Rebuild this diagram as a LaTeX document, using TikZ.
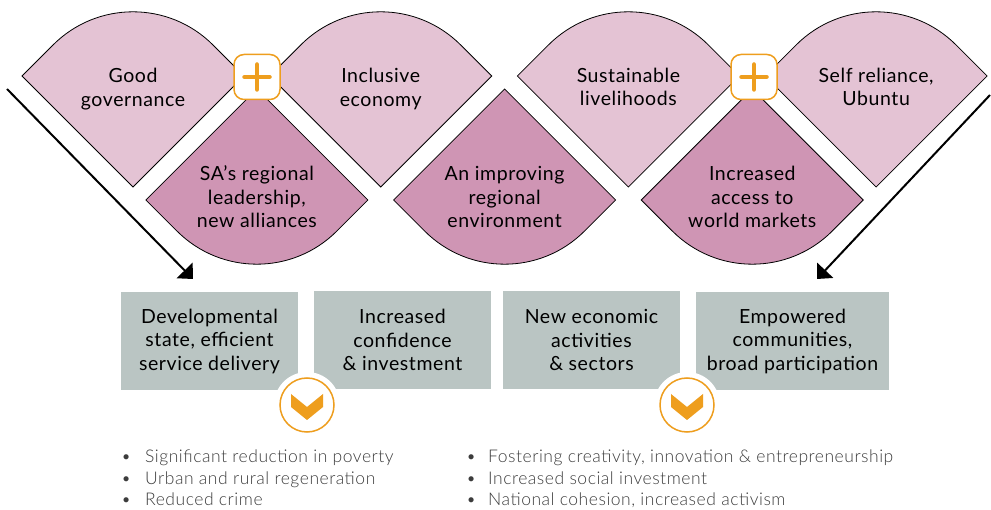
\documentclass[tikz,border=0pt]{standalone}
\usepackage{fontspec}
\setmainfont{Lato}[LetterSpace=3]
\newfontfamily\lightfont{Lato Light}[LetterSpace=3]
\usetikzlibrary{arrows.meta,positioning}

\definecolor{leaflight}{RGB}{228,195,212}
\definecolor{leafdark}{RGB}{207,149,180}
\definecolor{boxgrey}{RGB}{186,197,195}
\definecolor{accent}{RGB}{238,158,30}
\definecolor{listgrey}{RGB}{60,60,60}

\tikzset{
  leaftext/.style={align=center, inner sep=0pt, font=\fontsize{19.5}{23.5}\selectfont},
  outbox/.style={fill=boxgrey, minimum height=98pt, align=center, inner sep=0pt,
                 font=\fontsize{19.5}{23.5}\selectfont},
  plusbox/.style={draw=accent, line width=1.5pt, fill=white, rounded corners=10pt,
                  minimum width=46pt, minimum height=45pt},
  chevcircle/.style={circle, draw=accent, line width=1.5pt, fill=white, minimum size=54pt},
  trendarrow/.style={line width=2pt, -{Triangle[length=12pt,width=22pt]}},
  listtext/.style={anchor=base west, inner sep=0pt, text=listgrey,
                   font=\lightfont\fontsize{17.5}{21}\selectfont},
}

\begin{document}
\begin{tikzpicture}[x=1pt,y=1pt]
                \useasboundingbox (0,0) rectangle (991,509);
                % upper row
                \foreach \cx in {133,380.7,628.4,876.1}
                  \filldraw[fill=leaflight, draw=black, line width=0.8pt] (\cx-111,433) -- ++(45:43.98) arc[start angle=135, end angle=45, radius=113] -- (\cx+111,433) -- (\cx,322) -- cycle;
                % lower row
                \foreach \cx in {256.9,504.6,752.3}
                  \filldraw[fill=leafdark, draw=black, line width=0.8pt] (\cx-111,309) -- ++(-45:43.98) arc[start angle=225, end angle=315, radius=113] -- (\cx+111,309) -- (\cx,420) -- cycle;
                \node[leaftext] (gov) at (133,420) {Good\\governance};
                \node[leaftext] (econ) at (380.7,420) {Inclusive\\economy};
                \node[leaftext] (live) at (628.4,422) {Sustainable\\livelihoods};
                \node[leaftext] (self) at (876.1,422) {Self reliance,\\Ubuntu};
                \node[leaftext] (lead) at (256.9,312) {SA’s regional\\leadership,\\new alliances};
                \node[leaftext] (env) at (504.6,312) {An improving\\regional\\environment};
                \node[leaftext] (market) at (752.3,312) {Increased\\access to\\world markets};
                % plus signs
                \foreach \px/\nm in {257/plusA,754/plusB} {
                  \node[plusbox] (\nm) at (\px,432) {};
                  \draw[accent, line width=4.5pt, line cap=round] ([xshift=-12.5pt]\nm.center) -- ([xshift=12.5pt]\nm.center);
                  \draw[accent, line width=4.5pt, line cap=round] ([yshift=-12.5pt]\nm.center) -- ([yshift=12.5pt]\nm.center);
                }
                % arrows
                \coordinate (leftstart) at (7,420);
                \coordinate (lefttip) at (193,230);
                \coordinate (rightstart) at (990,414);
                \coordinate (righttip) at (817,230);
                \draw[trendarrow] (leftstart) -- (lefttip);
                \draw[trendarrow] (rightstart) -- (righttip);
                % outcomes
                \node[outbox, minimum width=177pt] (state) at (209.5,168) {Developmental\\state, efficient\\service delivery};
                \node[outbox, minimum width=177pt] (confidence) at (402.5,169) {Increased\\confidence\\\& investment};
                \node[outbox, minimum width=177pt] (sectors) at (591.5,169) {New economic\\activities\\\& sectors};
                \node[outbox, minimum width=193pt] (communities) at (792.5,168) {Empowered\\communities,\\broad participation};
                % chevrons
                \foreach \px/\nm in {307/downA,687/downB} {
                  \fill[white] (\px,104) circle (33);
                  \node[chevcircle] (\nm) at (\px,104) {};
                  \fill[accent] ([shift={(-16,11)}]\nm.center) -- ++(16,-13) -- ++(16,13) -- ++(0,-13) -- ++(-16,-13) -- ++(-16,13) -- cycle;
                }
                % lists
                \foreach \t [count=\i, evaluate=\i as \yy using 46-21*(\i-1)] in {Significant reduction in poverty, Urban and rural regeneration, Reduced crime}
                  \node[listtext] (gainL\i) at (121,\yy) {\makebox[24pt][l]{\textbullet}\t};
                \foreach \t [count=\i, evaluate=\i as \yy using 46-21*(\i-1)] in {{Fostering creativity, innovation \& entrepreneurship}, Increased social investment, {National cohesion, increased activism}}
                  \node[listtext] (gainR\i) at (466,\yy) {\makebox[22pt][l]{\textbullet}\t};
            \end{tikzpicture}
\end{document}
